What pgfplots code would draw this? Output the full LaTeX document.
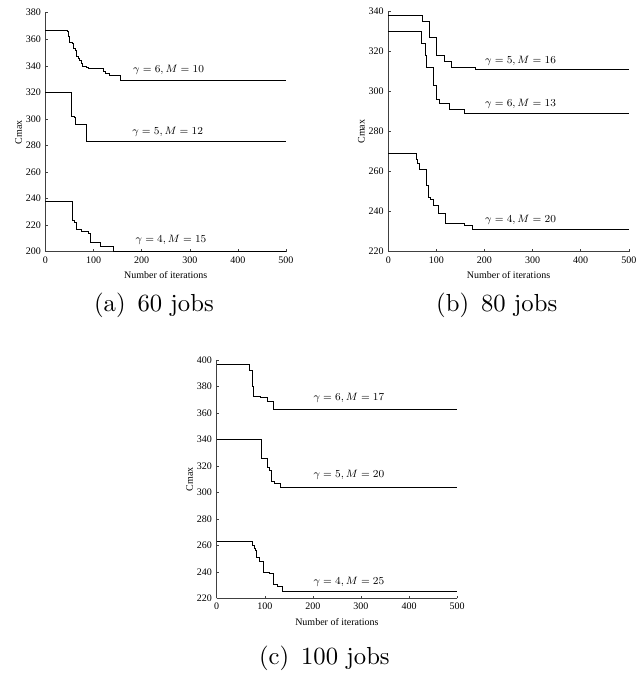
\documentclass[border=0pt]{standalone}
\usepackage{fontspec}
\usepackage{graphicx}
\usepackage{pgfplots}
\pgfplotsset{compat=1.18}
\newfontfamily\tnr{Liberation Serif}

% common look of the three panels
\pgfplotsset{
  /pgf/number format/assume math mode=true,
  iterplot/.style={
    scale only axis, width=180.4pt,
    anchor=south west,
    axis x line*=bottom, axis y line*=left,
    axis line style={black!75, line width=0.5pt},
    tick style={black!75, line width=0.4pt},
    tick align=inside, major tick length=2pt,
    xmin=0, xmax=500, xtick={0,100,...,500},
    tick label style={font=\tnr\fontsize{7.5}{8}\selectfont},
    xticklabel={\pgfmathprintnumber[assume math mode=true]{\tick}},
    yticklabel={\pgfmathprintnumber[assume math mode=true]{\tick}},
    label style={font=\tnr\fontsize{7.5}{8}\selectfont},
    xlabel={Number of iterations}, ylabel={Cmax},
    xlabel style={at={(axis description cs:0.5,-0.0975)}, anchor=center},
    ylabel style={at={(axis description cs:-0.112,0.5)}, anchor=center},
    clip=false, no markers, const plot,
    cycle list={{black, line width=0.55pt}},
  },
}
\tikzset{
  ann/.style={font=\fontsize{8}{9}\selectfont, anchor=center},
  subcap/.style={font=\fontsize{10}{12}\selectfont, anchor=base},
}

\begin{document}
\begin{tikzpicture}
\path[use as bounding box] (0,0) rectangle (477.75pt,506.25pt);

% (a) 60 jobs
\begin{axis}[iterplot, at={(34.1pt,317.5pt)}, height=179.25pt,
  ymin=200, ymax=380, ytick={200,220,...,380}]
\addplot coordinates {(0,367) (46,366) (48,362) (50,358) (55,357) (58,353) (62,352) (65,347) (68,346) (71,344) (74,342) (77,340) (84,339) (89,338) (120,336) (125,334) (132,333) (155,329) (500,329)};
\addplot coordinates {(0,320) (53,312) (54,302) (60,301) (63,296) (84,283) (500,283)};
\addplot coordinates {(0,238) (55,230) (56,224) (59,222) (63,217) (75,215) (90,214) (94,207) (114,204) (141,200) (500,200)};
\node[ann] at (axis cs:256,337) {$\gamma=6,M=10$};
\node[ann] at (axis cs:254,290.5) {$\gamma=5,M=12$};
\node[ann] at (axis cs:261,209) {$\gamma=4,M=15$};
\node[subcap] at (axis description cs:0.451,-0.250) {\scalebox{1.85}{(a)\hspace{0.15em} 60 jobs}};
\end{axis}

% (b) 80 jobs
\begin{axis}[iterplot, at={(291.2pt,317.5pt)}, height=180pt,
  ymin=220, ymax=340, ytick={220,240,...,340}]
\addplot coordinates {(0,338) (70,335) (86,327) (100,318) (117,315) (130,312) (181,311) (500,311)};
\addplot coordinates {(0,330) (68,324) (77,318) (79,312) (93,303) (99,296) (107,294) (126,291) (158,289) (500,289)};
\addplot coordinates {(0,269) (58,266) (61,264) (64,261) (79,253) (83,247) (88,246) (93,243) (103,239) (119,234) (158,233) (175,231) (500,231)};
\node[ann] at (axis cs:275,315.5) {$\gamma=5,M=16$};
\node[ann] at (axis cs:275,293.7) {$\gamma=6,M=13$};
\node[ann] at (axis cs:275,235.8) {$\gamma=4,M=20$};
\node[subcap] at (axis description cs:0.451,-0.249) {\scalebox{1.85}{(b)\hspace{0.15em} 80 jobs}};
\end{axis}

% (c) 100 jobs
\begin{axis}[iterplot, at={(162.5pt,57.5pt)}, height=178.7pt,
  ymin=220, ymax=400, ytick={220,240,...,400}]
\addplot coordinates {(0,397) (67,392) (75,380) (76,373) (90,372) (105,369) (118,363) (500,363)};
\addplot coordinates {(0,340) (92,326) (106,319) (110,317) (114,308) (119,307) (132,304) (500,304)};
\addplot coordinates {(0,263) (74,260) (78,258) (80,256) (83,251) (88,248) (97,240) (110,239) (117,231) (125,229) (137,225) (500,225)};
\node[ann] at (axis cs:275,371.5) {$\gamma=6,M=17$};
\node[ann] at (axis cs:275,313.2) {$\gamma=5,M=20$};
\node[ann] at (axis cs:275,232.1) {$\gamma=4,M=25$};
\node[subcap] at (axis description cs:0.448,-0.277) {\scalebox{1.85}{(c)\hspace{0.15em} 100 jobs}};
\end{axis}
\end{tikzpicture}
\end{document}
